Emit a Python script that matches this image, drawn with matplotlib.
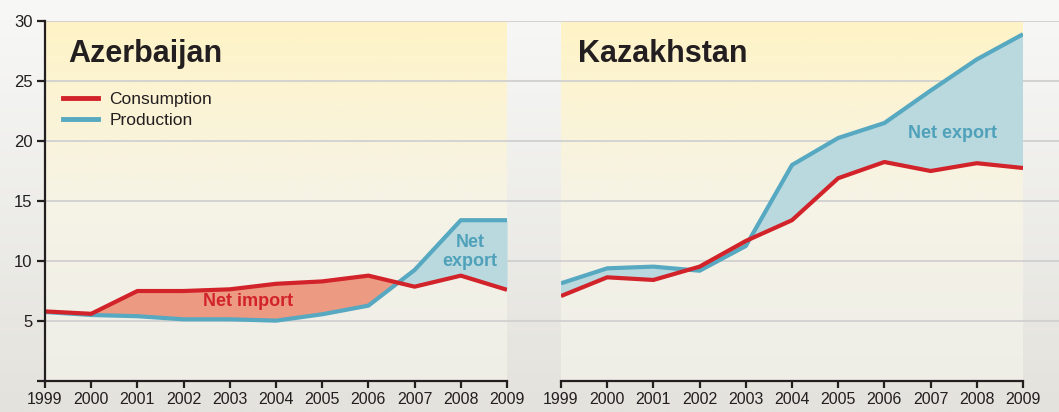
import numpy as np
import matplotlib.pyplot as plt
from matplotlib.colors import LinearSegmentedColormap
from matplotlib.lines import Line2D

plt.rcParams["font.family"] = ["Liberation Sans", "DejaVu Sans"]

years = np.arange(1999, 2010)

# Azerbaijan
aze_consumption = [5.8, 5.6, 7.5, 7.5, 7.64, 8.1, 8.3, 8.78, 7.86, 8.78, 7.6]
aze_production = [5.75, 5.5, 5.4, 5.14, 5.14, 5.03, 5.56, 6.28, 9.25, 13.4, 13.4]

# Kazakhstan
kaz_consumption = [7.08, 8.64, 8.42, 9.53, 11.67, 13.4, 16.9, 18.25, 17.5, 18.15, 17.75]
kaz_production = [8.14, 9.39, 9.53, 9.19, 11.25, 18.0, 20.25, 21.5, 24.2, 26.8, 28.9]

y_ticks = [0, 5, 10, 15, 20, 25, 30]
y_labels = ["", "5", "10", "15", "20", "25", "30"]

RED = "#d2232a"
BLUE = "#57a8c1"
RED_FILL = "#ec9a82"
BLUE_FILL = "#b9d9df"
TXT = "#231f20"
GRID = "#d0d0d0"

W, H = 1059, 412
fig = plt.figure(figsize=(W / 100, H / 100), dpi=100)

# figure background gradient
bg = fig.add_axes([0, 0, 1, 1], zorder=-10)
bg_cmap = LinearSegmentedColormap.from_list("bg", ["#f8f8f7", "#e3e2dc"])
bg.imshow(np.linspace(0, 1, 256).reshape(-1, 1), cmap=bg_cmap, aspect="auto",
          extent=[0, 1, 0, 1])
bg.axis("off")


def px_rect(x0, x1, ytop, ybot):
    return [x0 / W, (H - ybot) / H, (x1 - x0) / W, (ybot - ytop) / H]


# gridlines spanning whole width
grid_ax = fig.add_axes(px_rect(45, 1059, 21, 381), zorder=-5)
grid_ax.set_ylim(0, 30)
grid_ax.set_xlim(0, 1)
for v in y_ticks[1:]:
    grid_ax.axhline(v, color=GRID, lw=1.3)
grid_ax.axis("off")

panel_cmap = LinearSegmentedColormap.from_list(
    "panel", ["#eeeee8", "#f6f3e6", "#fff3c6"])


def make_panel(x0, x1):
    ax = fig.add_axes(px_rect(x0, x1, 21, 381))
    ax.set_xlim(1999, 2009)
    ax.set_ylim(0, 30)
    ax.imshow(np.linspace(0, 1, 256).reshape(-1, 1), cmap=panel_cmap,
              aspect="auto", extent=[1999, 2009, 0, 30], origin="lower",
              zorder=0)
    ax.set_facecolor("none")
    for v in y_ticks[1:]:
        ax.axhline(v, color=GRID, lw=1.3, zorder=1)
    ax.set_xticks(years)
    ax.set_xticklabels([str(y) for y in years], fontsize=11.5, color=TXT)
    ax.tick_params(axis="x", direction="out", length=5, width=1.6,
                   color=TXT, pad=3)
    for s in ["top", "right"]:
        ax.spines[s].set_visible(False)
    ax.spines["bottom"].set_linewidth(1.6)
    ax.spines["bottom"].set_color(TXT)
    ax.spines["bottom"].set_zorder(6)
    return ax


# Azerbaijan panel
ax1 = make_panel(45, 507)
ax1.set_yticks(y_ticks)
ax1.set_yticklabels(y_labels, fontsize=12, color=TXT)
ax1.tick_params(axis="y", direction="out", length=6, width=1.6, color=TXT,
                pad=3)
ax1.spines["left"].set_linewidth(1.6)
ax1.spines["left"].set_color(TXT)
ax1.spines["left"].set_zorder(6)

c = np.array(aze_consumption)
p = np.array(aze_production)
ax1.fill_between(years, c, p, where=c >= p, interpolate=True,
                 color=RED_FILL, lw=0, zorder=2)
ax1.fill_between(years, c, p, where=p >= c, interpolate=True,
                 color=BLUE_FILL, lw=0, zorder=2)
ax1.plot(years, c, color=RED, lw=3, zorder=4, solid_capstyle="butt")
ax1.plot(years, p, color=BLUE, lw=3, zorder=3, solid_capstyle="butt")

ax1.text(0.05, 0.908, "Azerbaijan", transform=ax1.transAxes, fontsize=22,
         fontweight="bold", color=TXT, va="center", ha="left")
ax1.text(2003.4, 6.6, "Net import", fontsize=13, fontweight="bold",
         color=RED, ha="center", va="center", zorder=5)
ax1.text(2008.2, 10.75, "Net\nexport", fontsize=13, fontweight="bold",
         color="#4fa1ba", ha="center", va="center", zorder=5,
         linespacing=1.15)

handles = [Line2D([], [], color=RED, lw=3.5),
           Line2D([], [], color=BLUE, lw=3.5)]
ax1.legend(handles, ["Consumption", "Production"], loc="upper left",
           bbox_to_anchor=(0.040, 0.803), frameon=False, fontsize=12.5,
           handlelength=2.0, handletextpad=0.65, borderpad=0,
           borderaxespad=0, labelspacing=0.32, labelcolor=TXT)

# Kazakhstan panel
ax2 = make_panel(561, 1023)
ax2.set_yticks([])
ax2.spines["left"].set_visible(False)

c = np.array(kaz_consumption)
p = np.array(kaz_production)
ax2.fill_between(years, c, p, where=p >= c, interpolate=True,
                 color=BLUE_FILL, lw=0, zorder=2)
ax2.fill_between(years, c, p, where=c >= p, interpolate=True,
                 color=RED_FILL, lw=0, zorder=2)
ax2.plot(years, c, color=RED, lw=3, zorder=4, solid_capstyle="butt")
ax2.plot(years, p, color=BLUE, lw=3, zorder=3, solid_capstyle="butt")

ax2.text(0.037, 0.908, "Kazakhstan", transform=ax2.transAxes, fontsize=22,
         fontweight="bold", color=TXT, va="center", ha="left")
ax2.text(2007.48, 20.65, "Net export", fontsize=13, fontweight="bold",
         color="#4fa1ba", ha="center", va="center", zorder=5)

fig.savefig("out.png", dpi=100)
